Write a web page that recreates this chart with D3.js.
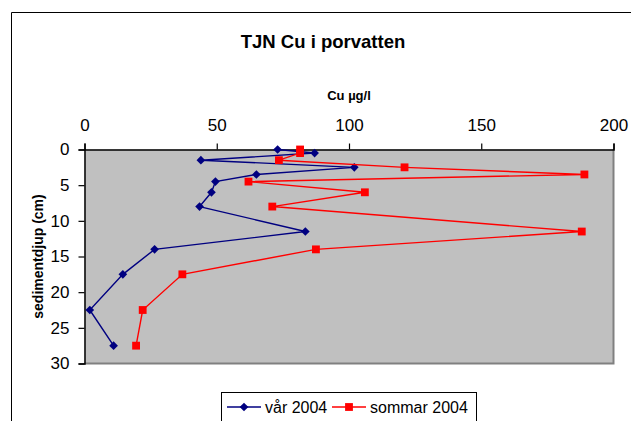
<!DOCTYPE html>
<html>
<head>
<meta charset="utf-8">
<script src="https://cdn.jsdelivr.net/npm/d3@7"></script>
<style>
  html, body { margin: 0; padding: 0; background: #fff; }
  svg { display: block; font-family: "Liberation Sans", Arial, sans-serif; }
</style>
</head>
<body>
<svg id="chart" width="631" height="421"></svg>
<script>
// Sediment depth (cm) of each pore-water sample
const depths = [0, 0.5, 1.5, 2.5, 3.5, 4.5, 6, 8, 11.5, 14, 17.5, 22.5, 27.5];
// Cu concentration (µg/l) per depth
const spring2004 = [73, 87, 44, 102, 65, 49.5, 48, 43.5, 83.5, 26.5, 14.5, 2, 11];
const summer2004 = [81.5, 81.5, 73.5, 121, 189, 62, 106, 71, 188, 87.5, 37, 22, 19.5];
const seriesNames = ["vår 2004", "sommar 2004"];
const xTicks = [0, 50, 100, 150, 200];
const yTicks = [0, 5, 10, 15, 20, 25, 30];

const svg = d3.select("#chart");

// Outer chart frame (open to the right and bottom)
svg.append("path")
  .attr("d", "M11.5,421 L11.5,12.5 L631,12.5")
  .attr("fill", "none").attr("stroke", "#000").attr("stroke-width", 1);

const x = d3.scaleLinear().domain([0, 200]).range([84.5, 613.5]);
const y = d3.scaleLinear().domain([0, 30]).range([149.5, 363.5]);

// Plot area
svg.append("rect")
  .attr("x", x(0)).attr("y", y(0))
  .attr("width", x(200) - x(0)).attr("height", y(30) - y(0))
  .attr("fill", "#C0C0C0");
svg.append("path")
  .attr("d", `M${x(200)},${y(0)} L${x(200)},${y(30)} L${x(0)},${y(30)}`)
  .attr("fill", "none").attr("stroke", "#808080").attr("stroke-width", 2);

// Axes
const xAxis = svg.append("g")
  .attr("transform", `translate(0,${y(0)})`)
  .call(d3.axisTop(x).tickValues(xTicks).tickSize(6).tickPadding(13).tickFormat(d3.format("d")));
const yAxis = svg.append("g")
  .attr("transform", `translate(${x(0)},0)`)
  .call(d3.axisLeft(y).tickValues(yTicks).tickSize(6).tickPadding(9).tickFormat(d3.format("d")));
[xAxis, yAxis].forEach(a => {
  a.select(".domain").attr("stroke", "#000").attr("stroke-width", 1.5);
  a.selectAll(".tick line").attr("stroke", "#000").attr("stroke-width", 1.2);
  a.selectAll(".tick text").attr("fill", "#000").attr("font-size", 17)
    .attr("font-family", "'Liberation Sans', Arial, sans-serif");
});

// Titles
svg.append("text").attr("x", 323).attr("y", 48).attr("text-anchor", "middle")
  .attr("font-size", 18.5).attr("font-weight", "bold").text("TJN Cu i porvatten");
svg.append("text").attr("x", 349).attr("y", 100).attr("text-anchor", "middle")
  .attr("font-size", 13).attr("font-weight", "bold").text("Cu µg/l");
svg.append("text")
  .attr("transform", `translate(43,${(y(0) + y(30)) / 2}) rotate(-90)`)
  .attr("text-anchor", "middle")
  .attr("font-size", 14).attr("font-weight", "bold").text("sedimentdjup (cm)");

// Series
const series = [
  { name: seriesNames[0], values: spring2004, color: "#000080", symbol: d3.symbolDiamond2, size: 48 },
  { name: seriesNames[1], values: summer2004, color: "#FF0000", symbol: d3.symbolSquare2, size: 78 }
];

const line = d3.line().x(d => x(d.v)).y(d => y(d.d));

series.forEach(s => {
  const pts = depths.map((d, i) => ({ d, v: s.values[i] }));
  svg.append("path").datum(pts)
    .attr("d", line).attr("fill", "none")
    .attr("stroke", s.color).attr("stroke-width", 1.4);
  svg.append("g").selectAll("path").data(pts).join("path")
    .attr("transform", d => `translate(${x(d.v)},${y(d.d)})`)
    .attr("d", d3.symbol().type(s.symbol).size(s.size))
    .attr("fill", s.color);
});

// Legend
const legend = svg.append("g");
legend.append("rect").attr("x", 221.5).attr("y", 392.5).attr("width", 255).attr("height", 40)
  .attr("fill", "#fff").attr("stroke", "#000").attr("stroke-width", 1);
const legendPos = [227, 332];
series.forEach((s, i) => {
  const lx = legendPos[i];
  legend.append("line").attr("x1", lx).attr("x2", lx + 34).attr("y1", 407).attr("y2", 407)
    .attr("stroke", s.color).attr("stroke-width", 1.4);
  legend.append("path").attr("transform", `translate(${lx + 17},407)`)
    .attr("d", d3.symbol().type(s.symbol).size(s.size)).attr("fill", s.color);
  legend.append("text").attr("x", lx + 38).attr("y", 412.5)
    .attr("font-size", 16).attr("fill", "#000").text(s.name);
});
</script>
</body>
</html>
